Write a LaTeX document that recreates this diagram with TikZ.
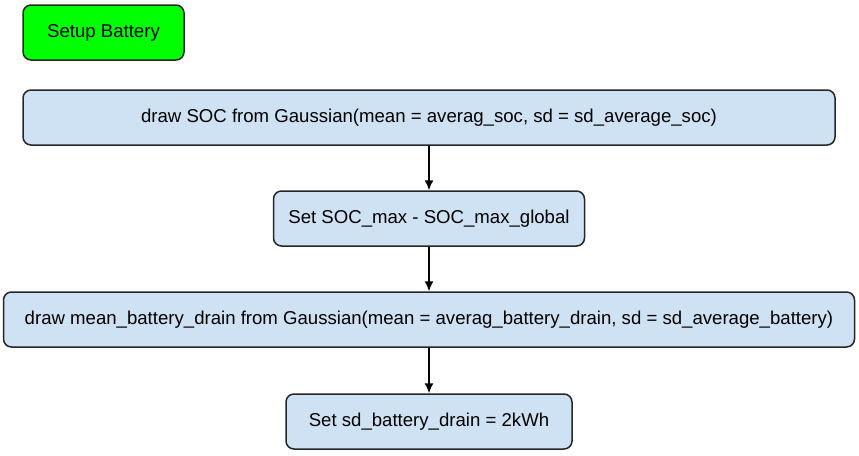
\documentclass[tikz,border=0pt]{standalone}
\usepackage{fontspec}
\setmainfont{Liberation Sans}
\usetikzlibrary{arrows.meta,positioning}
\definecolor{setupgreen}{HTML}{00FF00}
\definecolor{stepblue}{HTML}{CFE2F3}

\begin{document}
\begin{tikzpicture}[
  stepbox/.style={draw=black!85, line width=1.5pt, rounded corners=8pt, fill=stepblue, minimum height=55pt, inner sep=0pt, align=center, font=\fontsize{18.6}{22}\selectfont},
  arrow/.style={-{Latex[length=10pt,width=9pt]}, line width=1.5pt, draw=black}
]
\useasboundingbox (0,0) rectangle (859pt,-455pt);
\node[stepbox, fill=setupgreen, minimum width=161pt] (setup) at (103.5pt,-32.5pt) {Setup Battery};
\node[stepbox, minimum width=812pt] (s1) at (429pt,-117.5pt) {draw SOC from Gaussian(mean = averag\_soc, sd = sd\_average\_soc)};
\node[stepbox, minimum width=311pt, below=44.5pt of s1] (s2) {Set SOC\_max - SOC\_max\_global};
\node[stepbox, minimum width=851pt, below=44.5pt of s2] (s3) {draw mean\_battery\_drain from Gaussian(mean = averag\_battery\_drain, sd = sd\_average\_battery)};
\node[stepbox, minimum width=286pt, below=45.5pt of s3] (s4) {Set sd\_battery\_drain = 2kWh};
\foreach \a/\b in {s1/s2,s2/s3,s3/s4}
  \draw[arrow] (\a) -- (\b);
\end{tikzpicture}
\end{document}
